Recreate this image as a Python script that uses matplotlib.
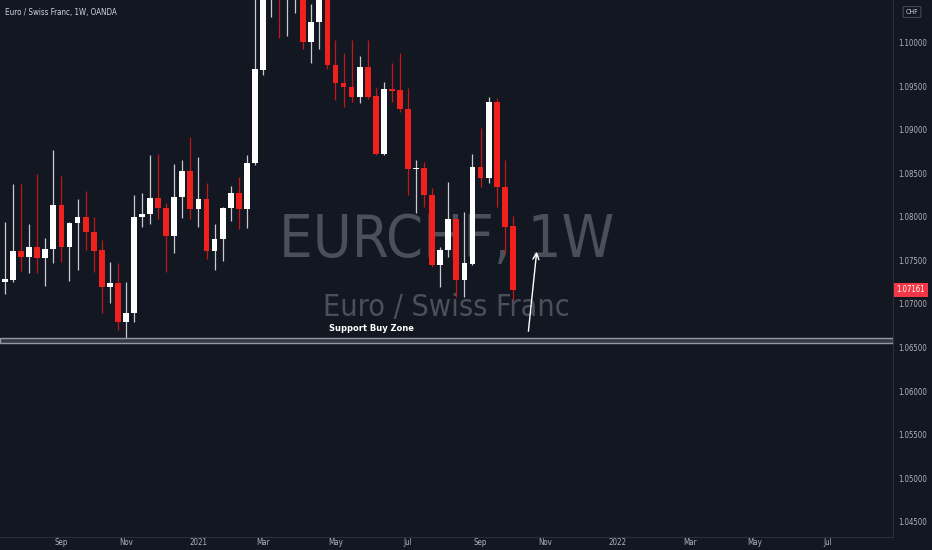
import matplotlib
matplotlib.use("Agg")
import matplotlib.pyplot as plt
import numpy as np
import pandas as pd
from matplotlib import font_manager as fm

# ---------------- data (weekly EUR/CHF candles, OANDA) ----------------
start_week = "2020-07-20"
opens = [1.07253, 1.07276, 1.07609, 1.07540, 1.07655, 1.07529, 1.07632, 1.08138, 1.07655, 1.07931,
         1.08000, 1.07828, 1.07621, 1.07195, 1.07241, 1.06793, 1.06897, 1.08000, 1.08034, 1.08218,
         1.08103, 1.07782, 1.08230, 1.08529, 1.08092, 1.08207, 1.07609, 1.07747, 1.08103, 1.08276,
         1.08092, 1.08621, 1.09690, 1.10800, 1.11000, 1.10650, 1.10750, 1.10850, 1.10011, 1.10241,
         1.10600, 1.09747, 1.09540, 1.09494, 1.09379, 1.09724, 1.09391, 1.08724, 1.09471, 1.09460,
         1.09241, 1.08552, 1.08563, 1.08253, 1.07448, 1.07621, 1.07977, 1.07276, 1.07459, 1.08575,
         1.08448, 1.09322, 1.08345, 1.07897]
highs = [1.07943, 1.08379, 1.08379, 1.07920, 1.08494, 1.07759, 1.08770, 1.08471, 1.07940, 1.08207,
         1.08299, 1.08000, 1.07736, 1.07483, 1.07471, 1.07253, 1.08253, 1.08276, 1.08713, 1.08724,
         1.08161, 1.08609, 1.08655, 1.08920, 1.08690, 1.08391, 1.07920, 1.08115, 1.08356, 1.08460,
         1.08713, 1.10600, 1.11500, 1.11300, 1.11200, 1.11000, 1.11100, 1.10950, 1.10450, 1.10800,
         1.10800, 1.10034, 1.09885, 1.10034, 1.09850, 1.10034, 1.09483, 1.09552, 1.09770, 1.09885,
         1.09483, 1.08655, 1.08632, 1.08333, 1.07655, 1.08402, 1.07990, 1.08057, 1.08724, 1.09023,
         1.09379, 1.09368, 1.08655, 1.08011]
lows = [1.07115, 1.07253, 1.07379, 1.07356, 1.07356, 1.07207, 1.07471, 1.07483, 1.07264, 1.07391,
        1.07621, 1.07368, 1.06897, 1.07012, 1.06701, 1.06586, 1.06793, 1.07885, 1.07920, 1.07977,
        1.07368, 1.07586, 1.07989, 1.07977, 1.07885, 1.07517, 1.07391, 1.07494, 1.07954, 1.07862,
        1.07874, 1.08598, 1.09632, 1.10299, 1.10057, 1.10080, 1.10345, 1.09930, 1.09770, 1.09930,
        1.09700, 1.09345, 1.09264, 1.09322, 1.09310, 1.09356, 1.08713, 1.08713, 1.09322, 1.09207,
        1.08253, 1.08046, 1.08115, 1.07425, 1.07195, 1.07540, 1.07081, 1.07081, 1.07450, 1.08345,
        1.08391, 1.08115, 1.07586, 1.07046]
closes = [1.07287, 1.07609, 1.07540, 1.07655, 1.07529, 1.07632, 1.08138, 1.07655, 1.07931, 1.08000,
          1.07828, 1.07609, 1.07195, 1.07241, 1.06793, 1.06897, 1.08000, 1.08034, 1.08218, 1.08103,
          1.07782, 1.08230, 1.08529, 1.08092, 1.08207, 1.07609, 1.07747, 1.08103, 1.08276, 1.08092,
          1.08621, 1.09701, 1.10900, 1.11000, 1.10700, 1.10800, 1.10900, 1.10011, 1.10241, 1.10600,
          1.09747, 1.09540, 1.09494, 1.09379, 1.09724, 1.09379, 1.08724, 1.09471, 1.09448, 1.09241,
          1.08552, 1.08563, 1.08253, 1.07448, 1.07621, 1.07977, 1.07276, 1.07471, 1.08575, 1.08448,
          1.09322, 1.08345, 1.07885, 1.07161]

price_ticks = [1.10000, 1.09500, 1.09000, 1.08500, 1.08000, 1.07500, 1.07000,
               1.06500, 1.06000, 1.05500, 1.05000, 1.04500]
month_starts = ["2020-09", "2020-11", "2021-01", "2021-03", "2021-05", "2021-07",
                "2021-09", "2021-11", "2022-01", "2022-03", "2022-05", "2022-07"]
month_labels = ["Sep", "Nov", "2021", "Mar", "May", "Jul",
                "Sep", "Nov", "2022", "Mar", "May", "Jul"]

zone_low, zone_high = 1.06552, 1.06609
zone_label = "Support Buy Zone"
arrow_from = (64.9, 1.06655)
arrow_to = (66.0, 1.07632)
last_price = closes[-1]

title = "Euro / Swiss Franc, 1W, OANDA"
wm1 = "EURCHF, 1W"
wm2 = "Euro / Swiss Franc"

# ---------------- style ----------------
BG = "#131722"
UP = "#ffffff"
DN = "#f0201d"
UPW = "#c8cad0"
DNW = "#c01818"
AXC = "#b2b5be"
BORDER = "#2a2e39"

cond_path = fm.findfont(fm.FontProperties(family="DejaVu Sans", stretch="condensed"))
if "ondensed" in cond_path:
    FONT = dict(family="DejaVu Sans", stretch="condensed")
else:
    FONT = dict(family="Liberation Sans")

W, H = 932, 550
fig = plt.figure(figsize=(W / 100, H / 100), dpi=100, facecolor=BG)
ax = fig.add_axes([0, 13 / H, 893 / W, 537 / H], facecolor=BG)
renderer = fig.canvas.get_renderer()


def fit(t, target_px):
    t.set_fontsize(10)
    w = t.get_window_extent(renderer).width
    t.set_fontsize(10 * target_px / w)
    return t


n = len(opens)
x = np.arange(n)
o = np.array(opens); c = np.array(closes); h = np.array(highs); l = np.array(lows)
up = c >= o

# watermark
t1 = ax.text(0.5, 0.5214, wm1, transform=ax.transAxes, ha="center", va="baseline",
             color="#4b4f5a", zorder=0, **FONT)
fit(t1, 335)
t2 = ax.text(0.5, 0.4115, wm2, transform=ax.transAxes, ha="center", va="baseline",
             color="#4b4f5a", zorder=0, **FONT)
fit(t2, 247)

# wicks
ax.vlines(x[up], l[up], h[up], color=UPW, lw=0.9, zorder=2)
ax.vlines(x[~up], l[~up], h[~up], color=DNW, lw=0.9, zorder=2)
# bodies
bottoms = np.minimum(o, c)
heights = np.maximum(np.abs(c - o), 0.00012)
ax.bar(x[up], heights[up], bottom=bottoms[up], width=0.72, color=UP, lw=0, zorder=3)
ax.bar(x[~up], heights[~up], bottom=bottoms[~up], width=0.72, color=DN, lw=0, zorder=3)

# support zone
ax.axhspan(zone_low, zone_high, facecolor="#363a45", edgecolor="#9598a1", lw=1.0, zorder=4)
tz = ax.text(40.2, zone_high + 0.0006, zone_label, color="white",
             fontweight="bold", ha="left", va="bottom", zorder=5, **FONT)
fit(tz, 84)

# arrow
ax.annotate("", xy=arrow_to, xytext=arrow_from,
            arrowprops=dict(arrowstyle="->", color="white", lw=1.0, mutation_scale=11),
            zorder=5)

# axes limits
ax.set_xlim(-0.62, 110.17)
ax.set_ylim(1.04322, 1.10494)

# x ticks from dates
start = pd.Timestamp(start_week)
xt = []
for m in month_starts:
    d = pd.Timestamp(m + "-01")
    while d.weekday() != 0:
        d += pd.Timedelta(days=1)
    xt.append((d - start).days / 7)
ax.set_xticks(xt)
ax.set_xticklabels(month_labels)
probe = fig.text(0, 0, "2021", **FONT)
fit(probe, 18)
xfs = probe.get_fontsize()
probe.remove()
ax.tick_params(axis="x", length=0, pad=1, colors=AXC, labelsize=xfs)
for t in ax.get_xticklabels():
    t.set_family(FONT["family"])
    if "stretch" in FONT:
        t.set_stretch(FONT["stretch"])

ax.yaxis.tick_right()
ax.set_yticks(price_ticks)
ax.set_yticklabels([f"{v:.5f}" for v in price_ticks])
probe = fig.text(0, 0, "1.10000", **FONT)
fit(probe, 29)
yfs = probe.get_fontsize()
probe.remove()
ax.tick_params(axis="y", length=0, pad=4, colors=AXC, labelsize=yfs)
for t in ax.get_yticklabels():
    t.set_family(FONT["family"])
    if "stretch" in FONT:
        t.set_stretch(FONT["stretch"])

for s in ["top", "left"]:
    ax.spines[s].set_visible(False)
ax.spines["right"].set_color(BORDER)
ax.spines["bottom"].set_color(BORDER)

# last price tag
ax.text(1.004, last_price, f"{last_price:.5f}", transform=ax.get_yaxis_transform(),
        ha="left", va="center", color="white", fontsize=yfs, zorder=10,
        bbox=dict(boxstyle="square,pad=0.35", facecolor="#f23645", edgecolor="none"),
        clip_on=False, **FONT)

# currency box
fig.text(912 / W, 1 - 12 / H, "CHF", ha="center", va="center", color="#d1d4dc",
         fontsize=yfs * 0.9,
         bbox=dict(boxstyle="round,pad=0.35,rounding_size=0.2", facecolor=BG,
                   edgecolor="#434651", lw=0.8), **FONT)

# title
tt = fig.text(5 / W, 1 - 12 / H, title, ha="left", va="center", color="#d1d4dc", **FONT)
fit(tt, 113)

fig.savefig("out.png", dpi=100, facecolor=BG)
